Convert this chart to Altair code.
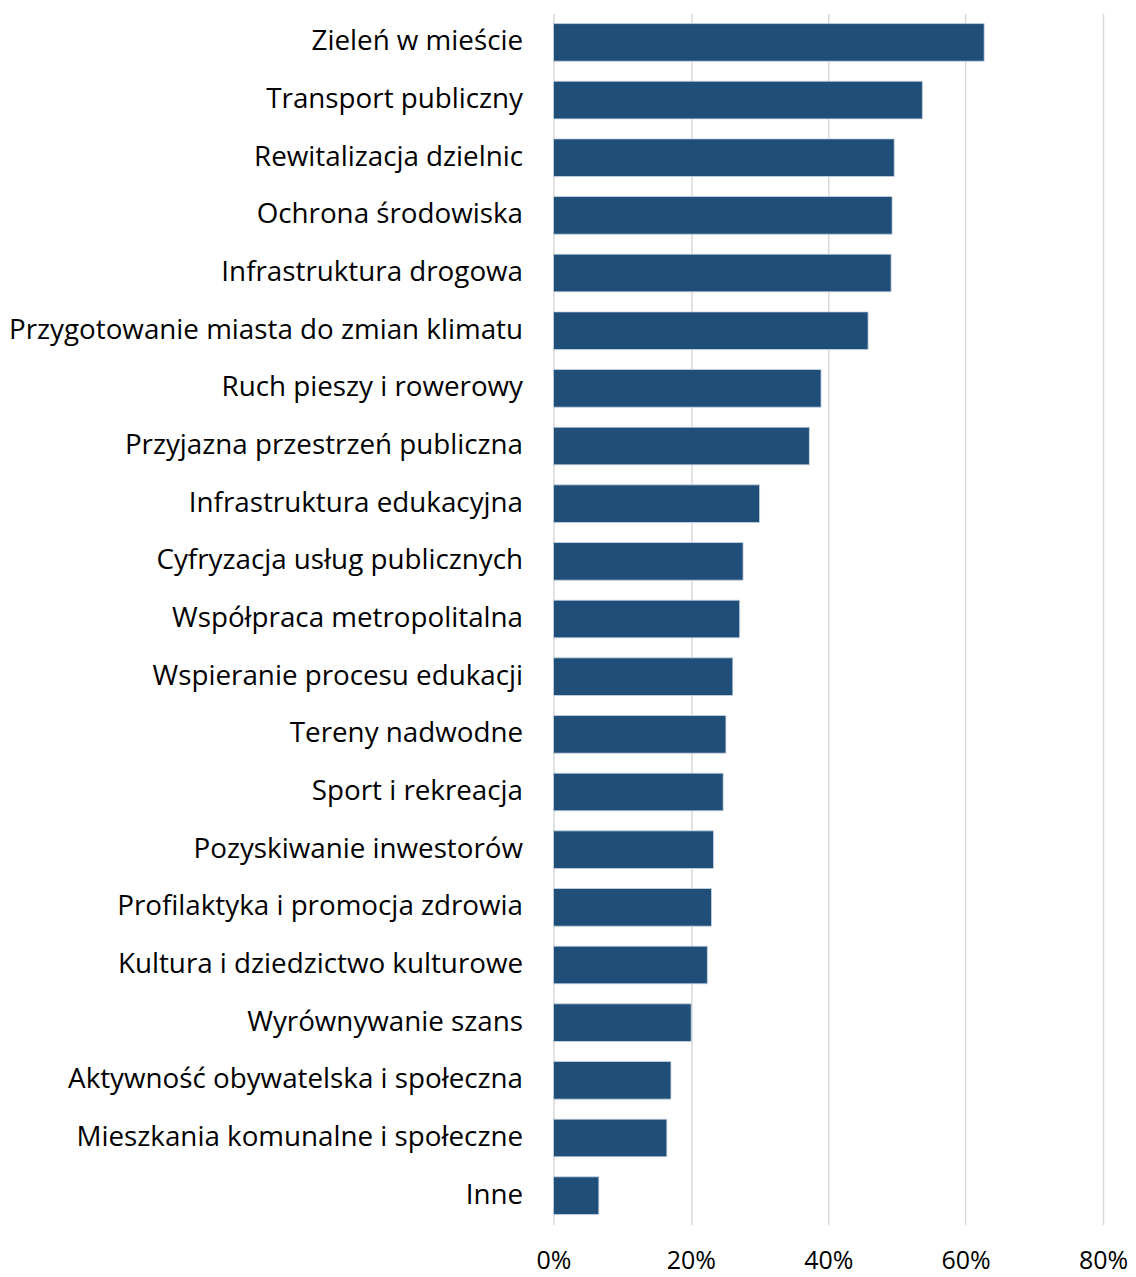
import altair as alt
import pandas as pd

categories = [
    "Zieleń w mieście",
    "Transport publiczny",
    "Rewitalizacja dzielnic",
    "Ochrona środowiska",
    "Infrastruktura drogowa",
    "Przygotowanie miasta do zmian klimatu",
    "Ruch pieszy i rowerowy",
    "Przyjazna przestrzeń publiczna",
    "Infrastruktura edukacyjna",
    "Cyfryzacja usług publicznych",
    "Współpraca metropolitalna",
    "Wspieranie procesu edukacji",
    "Tereny nadwodne",
    "Sport i rekreacja",
    "Pozyskiwanie inwestorów",
    "Profilaktyka i promocja zdrowia",
    "Kultura i dziedzictwo kulturowe",
    "Wyrównywanie szans",
    "Aktywność obywatelska i społeczna",
    "Mieszkania komunalne i społeczne",
    "Inne",
]
values = [
    0.627, 0.537, 0.496, 0.493, 0.4915, 0.458, 0.3895, 0.3725, 0.300, 0.276,
    0.271, 0.261, 0.251, 0.247, 0.233, 0.230, 0.224, 0.2005, 0.171, 0.165, 0.066,
]
x_ticks = [0, 0.2, 0.4, 0.6, 0.8]

df = pd.DataFrame({"kategoria": categories, "wartosc": values})

FONT = "Open Sans"

chart = (
    alt.Chart(df)
    .mark_bar(color="#1F4E79", stroke="#C9D6E3", strokeWidth=0.8)
    .encode(
        x=alt.X(
            "wartosc:Q",
            scale=alt.Scale(domain=[0, 0.8], nice=False),
            axis=alt.Axis(
                values=x_ticks,
                format=".0%",
                title=None,
                grid=True,
                gridColor="#D9D9D9",
                gridWidth=1.5,
                domain=False,
                ticks=False,
                labelFlush=False,
                labelPadding=24,
                labelFontSize=25,
                labelFont=FONT,
                labelColor="#000000",
            ),
        ),
        y=alt.Y(
            "kategoria:N",
            sort=categories,
            scale=alt.Scale(paddingInner=0.347, paddingOuter=0.1735),
            axis=alt.Axis(
                title=None,
                domain=False,
                ticks=False,
                grid=False,
                labelPadding=31,
                labelFontSize=27.8,
                labelFont=FONT,
                labelColor="#000000",
                labelLimit=1000,
            ),
        ),
    )
    .properties(
        width=550,
        height=1212,
        padding={"left": 0, "top": 5, "right": 0, "bottom": 0},
    )
    .configure_view(stroke=None)
)

chart.save("out.html", embed_options={"renderer": "svg", "actions": False})
